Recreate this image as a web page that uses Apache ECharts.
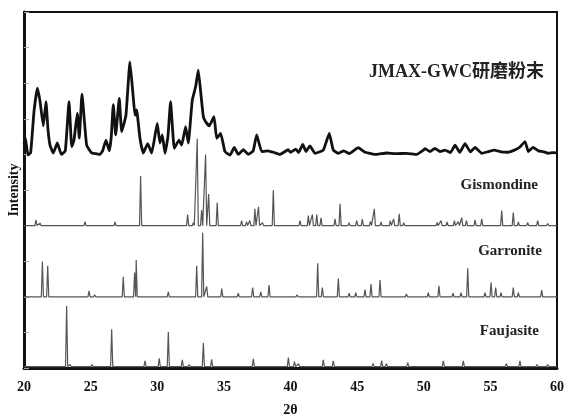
<!DOCTYPE html>
<html>
<head>
<meta charset="utf-8">
<script src="https://cdn.jsdelivr.net/npm/echarts@6/dist/echarts.min.js"></script>
<style>
  html, body { margin: 0; padding: 0; background: #fff; }
  #chart { width: 566px; height: 415px; }
</style>
</head>
<body>
<div id="chart"></div>
<script>
// 2θ tick labels
const xTicks = [20, 25, 30, 35, 40, 45, 50, 55, 60];

// measured pattern (JMAX-GWC研磨粉末), offset stacked on top
const jmaxPts = [
  [20.0, 6.3], [20.1, 6.46], [20.3, 5.98], [20.5, 6.05], [20.75, 7.2], [21.0, 7.86], [21.2, 7.5],
  [21.45, 6.8], [21.65, 7.48], [21.8, 6.7], [21.95, 6.26], [22.2, 6.04], [22.5, 6.32], [22.8, 6.0],
  [23.1, 6.1], [23.38, 7.48], [23.58, 6.22], [23.75, 6.4], [24.0, 7.15], [24.15, 6.46], [24.35, 7.69],
  [24.7, 6.26], [25.08, 6.04], [25.4, 6.02], [25.7, 6.0], [25.9, 6.1], [26.15, 6.4], [26.4, 6.1],
  [26.55, 6.5], [26.7, 7.4], [26.88, 6.55], [27.15, 7.57], [27.33, 6.64], [27.65, 7.1], [27.95, 8.6],
  [28.2, 7.6], [28.33, 7.1], [28.45, 7.25], [28.7, 6.46], [28.95, 6.04], [29.28, 6.3], [29.58, 6.04],
  [30.0, 6.87], [30.2, 6.32], [30.38, 6.55], [30.58, 6.03], [30.8, 6.5], [31.0, 7.48], [31.28, 6.17],
  [31.63, 6.4], [31.83, 6.26], [32.13, 6.78], [32.33, 6.32], [32.63, 7.53], [32.88, 7.9], [33.08, 8.37],
  [33.3, 7.6], [33.46, 7.06], [33.63, 6.92], [33.9, 6.8], [34.26, 7.06], [34.46, 6.45], [34.76, 6.59],
  [35.08, 6.08], [35.46, 5.98], [35.78, 6.2], [36.08, 6.0], [36.46, 6.13], [36.83, 6.0], [37.2, 6.1],
  [37.46, 6.55], [37.84, 6.08], [38.3, 6.1], [38.8, 6.05], [39.2, 6.0], [39.83, 6.13], [40.0, 6.06],
  [40.4, 6.15], [40.6, 6.05], [40.92, 6.28], [41.16, 6.08], [41.46, 6.24], [41.84, 6.03], [42.46, 6.12],
  [42.91, 6.59], [43.21, 6.12], [43.6, 6.03], [44.0, 6.1], [44.4, 6.02], [45.09, 6.19], [45.6, 6.06],
  [46.47, 6.0], [47.2, 6.04], [47.9, 6.02], [48.7, 6.03], [49.47, 6.0], [49.97, 6.12], [50.09, 6.16],
  [50.47, 6.08], [50.84, 6.17], [51.22, 6.08], [51.6, 6.12], [52.0, 6.05], [52.35, 6.26], [52.7, 6.06],
  [53.1, 6.3], [53.5, 6.07], [53.85, 6.2], [54.35, 6.03], [54.85, 6.08], [55.3, 6.12], [55.8, 6.07],
  [56.3, 6.06], [56.8, 6.12], [57.2, 6.2], [57.6, 6.36], [57.85, 6.08], [58.2, 6.2], [58.6, 6.1],
  [58.95, 6.08], [59.35, 6.03], [59.7, 6.05], [60.0, 6.04]
];

// reference patterns: peak positions (2θ) and heights above their baseline
const gisBase = 4;
const gisPos = [20.9, 21.2, 24.58, 26.83, 28.75, 30.15, 31.25, 32.28, 32.7, 33.0, 33.33, 33.63, 33.86, 34.5,
  36.33, 36.7, 36.95, 37.33, 37.6, 37.9, 38.71, 39.4, 40.71, 41.34, 41.64, 41.97, 42.29, 43.34, 43.72, 44.4,
  44.97, 45.39, 46.0, 46.29, 46.8, 47.49, 47.74, 48.16, 48.5, 50.0, 51.0, 51.3, 51.75, 52.3, 52.6, 52.85,
  53.2, 53.85, 54.35, 55.85, 56.72, 57.1, 57.8, 58.55, 59.3];
const gisH = [0.16, 0.07, 0.11, 0.1, 1.39, 0.05, 0.04, 0.31, 0.08, 2.44, 0.44, 2.0, 0.89, 0.65,
  0.14, 0.11, 0.14, 0.47, 0.53, 0.08, 1.0, 0.04, 0.14, 0.28, 0.31, 0.31, 0.22, 0.19, 0.61, 0.08,
  0.14, 0.18, 0.12, 0.47, 0.1, 0.14, 0.19, 0.33, 0.08, 0.04, 0.09, 0.14, 0.1, 0.14, 0.11, 0.22,
  0.14, 0.16, 0.19, 0.42, 0.37, 0.1, 0.09, 0.14, 0.06];

const garBase = 2;
const garPos = [21.38, 21.78, 24.88, 25.3, 27.45, 28.3, 28.42, 30.83, 32.96, 33.41, 33.71, 34.84, 36.08,
  37.16, 37.77, 38.39, 39.45, 40.5, 42.04, 42.39, 43.59, 44.4, 44.9, 45.59, 46.04, 46.72, 48.7, 50.34,
  51.14, 52.2, 52.8, 53.3, 54.6, 55.05, 55.4, 55.8, 56.72, 57.1, 58.85];
const garH = [0.99, 0.87, 0.17, 0.06, 0.56, 0.68, 1.03, 0.14, 0.87, 1.8, 0.29, 0.23, 0.1,
  0.26, 0.14, 0.33, 0.03, 0.06, 0.94, 0.26, 0.51, 0.1, 0.12, 0.2, 0.36, 0.47, 0.08, 0.12,
  0.31, 0.1, 0.12, 0.8, 0.12, 0.4, 0.26, 0.12, 0.26, 0.12, 0.19];

const fauBase = 0.04;
const fauPos = [21.15, 23.2, 23.45, 25.1, 26.58, 29.08, 30.15, 30.83, 31.88, 32.4, 33.46, 34.08, 35.0,
  35.5, 37.21, 39.84, 40.3, 40.6, 42.46, 43.21, 44.9, 46.2, 46.84, 47.2, 48.8, 49.9, 51.47, 52.97,
  54.97, 56.2, 57.22, 58.5, 59.3];
const fauH = [0.05, 1.7, 0.06, 0.06, 1.05, 0.16, 0.23, 0.97, 0.19, 0.06, 0.66, 0.2, 0.05,
  0.05, 0.22, 0.25, 0.14, 0.08, 0.19, 0.16, 0.05, 0.09, 0.17, 0.08, 0.11, 0.05, 0.16, 0.16,
  0.05, 0.08, 0.16, 0.06, 0.06];

// turn a peak list into a thin-peak line sitting on its baseline
function sticks(pos, h, base) {
  const d = [[20, base]];
  pos.forEach((p, i) => {
    d.push([p - 0.08, base], [p, base + h[i]], [p + 0.08, base]);
  });
  d.push([60, base]);
  return d;
}

const serif = '"Liberation Serif", "Times New Roman", "Noto Sans CJK SC", serif';

const chart = echarts.init(document.getElementById('chart'), null, { renderer: 'canvas' });

const stickStyle = { color: '#555', width: 1.2 };

chart.setOption({
  backgroundColor: '#fff',
  animation: false,
  grid: {
    left: 24, right: 9, top: 12, bottom: 47,
    outerBoundsMode: 'none',
    show: true, borderColor: '#111', borderWidth: 2, backgroundColor: 'transparent'
  },
  xAxis: {
    type: 'value', min: 20, max: 60, interval: 5,
    name: '2θ', nameLocation: 'middle', nameGap: 35,
    nameTextStyle: { fontFamily: serif, fontWeight: 'bold', fontSize: 14, color: '#111' },
    axisLine: { show: true, lineStyle: { color: '#111', width: 3 } },
    axisTick: { show: false },
    splitLine: { show: false },
    axisLabel: {
      margin: 12, fontFamily: serif, fontWeight: 'bold', fontSize: 14, color: '#111',
      formatter: v => (xTicks.includes(v) ? String(v) : '')
    }
  },
  yAxis: {
    type: 'value', min: 0, max: 10, interval: 1,
    name: 'Intensity', nameLocation: 'middle', nameGap: 3,
    nameTextStyle: { fontFamily: serif, fontWeight: 'bold', fontSize: 14, color: '#111' },
    axisLine: { show: true, lineStyle: { color: '#111', width: 3 } },
    axisTick: { show: true, inside: true, length: 5, lineStyle: { color: '#aaa', width: 1 } },
    axisLabel: { show: false },
    splitLine: { show: false }
  },
  series: [
    {
      name: 'Faujasite', type: 'line', data: sticks(fauPos, fauH, fauBase),
      showSymbol: false, lineStyle: stickStyle, z: 2
    },
    {
      name: 'Garronite', type: 'line', data: sticks(garPos, garH, garBase),
      showSymbol: false, lineStyle: stickStyle, z: 2
    },
    {
      name: 'Gismondine', type: 'line', data: sticks(gisPos, gisH, gisBase),
      showSymbol: false, lineStyle: stickStyle, z: 2
    },
    {
      name: 'JMAX-GWC研磨粉末', type: 'line', data: jmaxPts,
      showSymbol: false, smooth: 0.12,
      lineStyle: { color: '#111', width: 2.8, join: 'round' }, z: 3
    }
  ],
  graphic: [
    { type: 'text', x: 544, y: 72, style: { text: 'JMAX-GWC研磨粉末', font: 'bold 18px ' + serif, fill: '#222', align: 'right', verticalAlign: 'middle' } },
    { type: 'text', x: 538, y: 185, style: { text: 'Gismondine', font: 'bold 15px ' + serif, fill: '#222', align: 'right', verticalAlign: 'middle' } },
    { type: 'text', x: 542, y: 251, style: { text: 'Garronite', font: 'bold 15px ' + serif, fill: '#222', align: 'right', verticalAlign: 'middle' } },
    { type: 'text', x: 539, y: 331, style: { text: 'Faujasite', font: 'bold 15px ' + serif, fill: '#222', align: 'right', verticalAlign: 'middle' } }
  ]
});
</script>
</body>
</html>
